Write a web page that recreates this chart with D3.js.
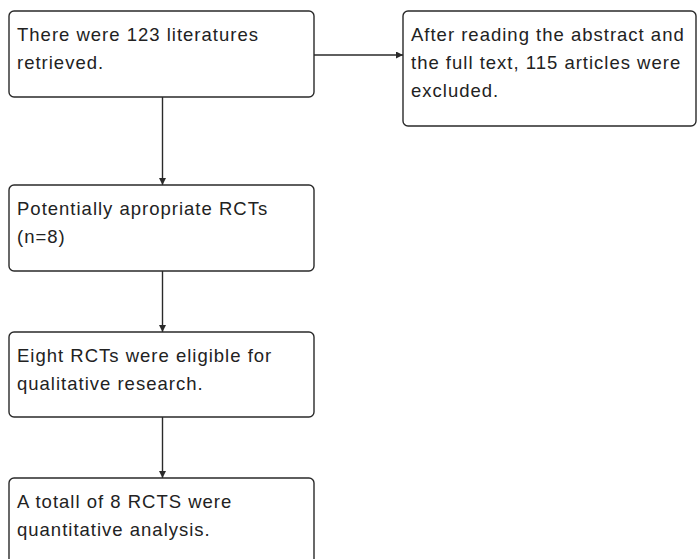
<!DOCTYPE html>
<html>
<head>
<meta charset="utf-8">
<script src="https://cdn.jsdelivr.net/npm/d3@7"></script>
<style>
  html, body { margin: 0; padding: 0; background: #fff; }
  svg { display: block; }
</style>
</head>
<body>
<svg id="chart" width="698" height="559"></svg>
<script>
// flow chart content
const nodeIds = ['retrieved', 'excluded', 'potential', 'eligible', 'total'];
const nodeLines = [
    ['There were 123 literatures', 'retrieved.'],
    ['After reading the abstract and', 'the full text, 115 articles were', 'excluded.'],
    ['Potentially apropriate RCTs', '(n=8)'],
    ['Eight RCTs were eligible for', 'qualitative research.'],
    ['A totall of 8 RCTS were', 'quantitative analysis.']
];
const edges = [
    ['retrieved', 'excluded'],
    ['retrieved', 'potential'],
    ['potential', 'eligible'],
    ['eligible', 'total']
];

// layout (grid slot for each node)
const layout = {
    retrieved: {col: 0, row: 0, h: 86},
    excluded:  {col: 1, row: 0, h: 115},
    potential: {col: 0, row: 1, h: 86},
    eligible:  {col: 0, row: 2, h: 85},
    total:     {col: 0, row: 3, h: 86}
};

const colX = d3.scaleOrdinal().domain([0, 1]).range([9, 403]);
const colW = d3.scaleOrdinal().domain([0, 1]).range([305, 293]);
const rowY = d3.scaleOrdinal().domain([0, 1, 2, 3]).range([11, 185, 332, 478]);

const svg = d3.select('#chart');
const stroke = '#2a2a2a';

const nodes = nodeIds.map((id, i) => {
    const l = layout[id];
    return {id: id, lines: nodeLines[i], x: colX(l.col), y: rowY(l.row), w: colW(l.col), h: l.h};
});
const byId = {};
nodes.forEach(n => byId[n.id] = n);

svg.append('defs').append('marker')
    .attr('id', 'arrow')
    .attr('viewBox', '0 0 10 10')
    .attr('refX', 10)
    .attr('refY', 5)
    .attr('markerUnits', 'userSpaceOnUse')
    .attr('markerWidth', 8)
    .attr('markerHeight', 7)
    .attr('orient', 'auto')
    .append('path')
    .attr('d', 'M0,0 L10,5 L0,10 Z')
    .attr('fill', stroke);

// connectors
const line = d3.line();
svg.selectAll('.edge')
    .data(edges)
    .enter().append('path')
    .attr('class', 'edge')
    .attr('d', d => {
        const a = byId[d[0]], b = byId[d[1]];
        if (a.y === b.y) {
            const yy = a.y + 44;
            return line([[a.x + a.w, yy], [b.x, yy]]);
        }
        const xx = a.x + a.w / 2 + 1;
        return line([[xx, a.y + a.h], [xx, b.y]]);
    })
    .attr('fill', 'none')
    .attr('stroke', stroke)
    .attr('stroke-width', 1.4)
    .attr('marker-end', 'url(#arrow)');

// boxes
const g = svg.selectAll('.node')
    .data(nodes)
    .enter().append('g')
    .attr('class', 'node')
    .attr('transform', d => `translate(${d.x},${d.y})`);

g.append('rect')
    .attr('width', d => d.w)
    .attr('height', d => d.h)
    .attr('rx', 5)
    .attr('ry', 5)
    .attr('fill', '#fff')
    .attr('stroke', stroke)
    .attr('stroke-width', 1.4);

g.append('text')
    .attr('font-family', 'Liberation Sans, Arial, sans-serif')
    .attr('font-size', 18.5)
    .attr('letter-spacing', 1)
    .attr('fill', '#222')
    .selectAll('tspan')
    .data(d => d.lines)
    .enter().append('tspan')
    .attr('x', 8)
    .attr('y', (d, i) => 30 + i * 28)
    .text(d => d);
</script>
</body>
</html>
